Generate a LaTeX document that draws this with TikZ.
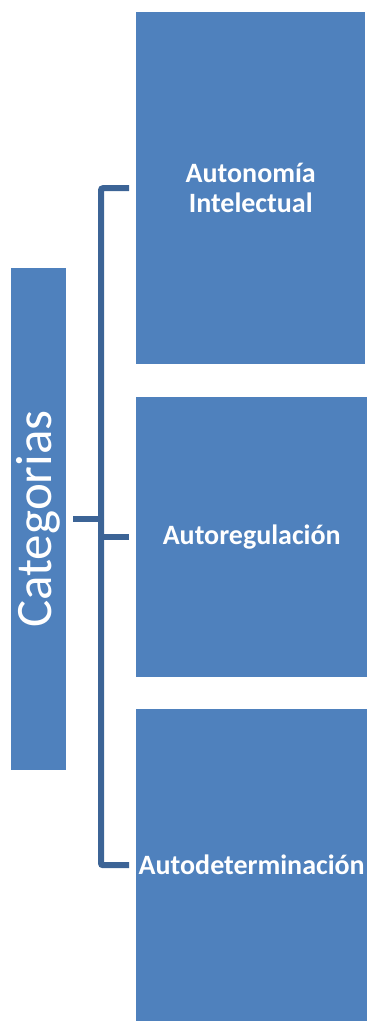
\documentclass[tikz,border=0pt]{standalone}
\usepackage{fontspec}
\setmainfont{Carlito}
\usetikzlibrary{positioning}
\definecolor{boxblue}{RGB}{79,129,189}
\definecolor{linkblue}{RGB}{60,100,150}
\tikzset{
  catbox/.style={fill=boxblue, text=white, minimum width=55pt, minimum height=502pt, inner sep=0pt},
  itembox/.style={fill=boxblue, text=white, font=\fontsize{28}{30}\selectfont\bfseries, align=center, inner sep=0pt, anchor=north west},
  link/.style={draw=linkblue, line width=6pt, rounded corners=2pt}
}

\begin{document}
\begin{tikzpicture}[x=1pt,y=-1pt]
\useasboundingbox (0,0) rectangle (369,1021);

% left box
\node[catbox] (cat) at (38.5,519) {\rotatebox{90}{\fontsize{51}{60}\selectfont Categorias}};

% right boxes
\node[itembox, minimum width=229pt, minimum height=352pt] (auto) at (136,12) {Autonomía\\Intelectual};
\node[itembox, minimum width=231pt, minimum height=280pt] (reg) at (136,397) {Autoregulación};
\node[itembox, minimum width=231pt, minimum height=312pt] (det) at (136,709) {Autodeterminación};

% bracket
\coordinate (spine) at (101,519);
\draw[link, shorten <=7pt] (cat.east) -- (spine);
\draw[link, shorten >=7pt] (spine) |- (auto.west);
\draw[link, shorten >=7pt] (spine) |- (det.west);
\draw[link, shorten >=7pt] (spine |- reg.west) -- (reg.west);

\end{tikzpicture}
\end{document}
